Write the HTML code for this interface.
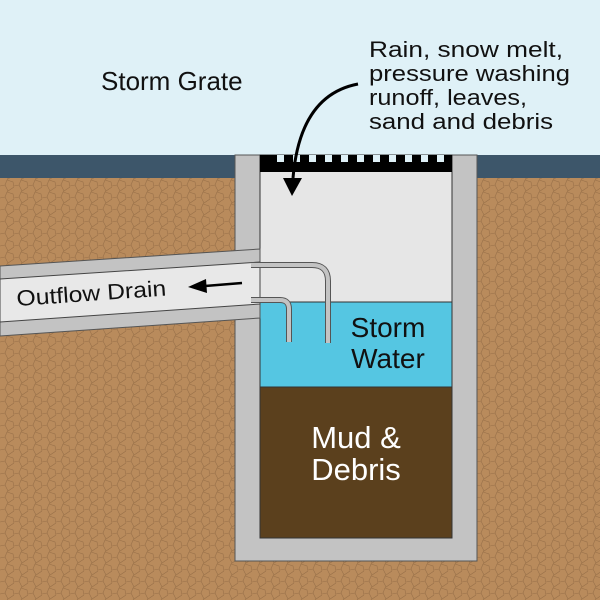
<!DOCTYPE html>
<html><head><meta charset="utf-8"><style>html,body{margin:0;padding:0;}svg{display:block;}text{font-family:"Liberation Sans",sans-serif;}</style></head>
<body>
<svg width="600" height="600" viewBox="0 0 600 600" xmlns="http://www.w3.org/2000/svg">
<defs>
<pattern id="soil" width="14" height="12" patternUnits="userSpaceOnUse">
<rect width="14" height="12" fill="#b98b5c"/>
<path d="M0 6 L5 5 L7 0 M5 5 L8 11 L14 7 M7 0 L13 2 L14 7 M8 11 L7 12" stroke="#8a6440" stroke-width="0.6" fill="none" opacity="0.7"/>
</pattern>
</defs>
<rect width="600" height="600" fill="url(#soil)"/>
<rect width="600" height="155" fill="#dff1f7"/>
<rect y="155" width="600" height="23" fill="#3d566a"/>
<!-- chamber -->
<rect x="235" y="155" width="242" height="406" fill="#c3c3c3" stroke="#555" stroke-width="1"/>
<rect x="260" y="155" width="192" height="383" fill="#e6e6e6" stroke="#333" stroke-width="1"/>
<rect x="260" y="302" width="192" height="85" fill="#55c6e2" stroke="#333" stroke-width="1"/>
<rect x="260" y="387" width="192" height="151" fill="#5b401d" stroke="#333" stroke-width="1"/>
<!-- grate -->
<rect x="260" y="155" width="192" height="17" fill="#000"/>
<g fill="#dff1f7">
<rect x="277" y="155" width="7" height="7"/><rect x="293" y="155" width="7" height="7"/><rect x="309" y="155" width="7" height="7"/><rect x="325" y="155" width="7" height="7"/><rect x="341" y="155" width="7" height="7"/><rect x="357" y="155" width="7" height="7"/><rect x="373" y="155" width="7" height="7"/><rect x="389" y="155" width="7" height="7"/><rect x="405" y="155" width="7" height="7"/><rect x="421" y="155" width="7" height="7"/><rect x="437" y="155" width="7" height="7"/>
</g>
<!-- outflow pipe -->
<polygon points="0,266 260,249 260,318 0,336" fill="#c3c3c3" stroke="#555" stroke-width="1"/>
<polygon points="0,279 260,262 260,304 0,322" fill="#e8e8e8" stroke="#444" stroke-width="1"/>
<!-- elbows -->
<path d="M251 265 H312 Q328 265 328 281 V343" fill="none" stroke="#555" stroke-width="6"/>
<path d="M251 265 H312 Q328 265 328 281 V343" fill="none" stroke="#c3c3c3" stroke-width="4"/>
<path d="M251 300 H280 Q289 300 289 309 V342" fill="none" stroke="#555" stroke-width="6"/>
<path d="M251 300 H280 Q289 300 289 309 V342" fill="none" stroke="#c3c3c3" stroke-width="4"/>
<!-- arrows -->
<path d="M358 84 Q300 95 293 178" fill="none" stroke="#000" stroke-width="3"/>
<polygon points="283,178 302,178 292,196" fill="#000"/>
<line x1="242" y1="283" x2="205" y2="286" stroke="#000" stroke-width="2.5"/>
<polygon points="188,287 206,279 207,293" fill="#000"/>
<!-- text -->
<text x="101" y="90" font-size="26" fill="#111">Storm Grate</text>
<g font-size="22" fill="#111">
<text x="369" y="57" textLength="194" lengthAdjust="spacingAndGlyphs">Rain, snow melt,</text>
<text x="369" y="81" textLength="201" lengthAdjust="spacingAndGlyphs">pressure washing</text>
<text x="369" y="105" textLength="158" lengthAdjust="spacingAndGlyphs">runoff, leaves,</text>
<text x="369" y="129" textLength="184" lengthAdjust="spacingAndGlyphs">sand and debris</text>
</g>
<text x="17" y="306" font-size="22" fill="#111" transform="rotate(-4 17 306)" textLength="150" lengthAdjust="spacingAndGlyphs">Outflow Drain</text>
<g font-size="28" fill="#111" text-anchor="middle">
<text x="388" y="337">Storm</text>
<text x="388" y="368">Water</text>
</g>
<g font-size="31" fill="#fff" text-anchor="middle">
<text x="356" y="448">Mud &amp;</text>
<text x="356" y="480">Debris</text>
</g>
</svg>
</body></html>
